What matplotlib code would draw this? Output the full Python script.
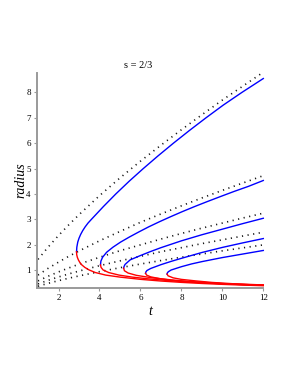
import matplotlib
matplotlib.use("Agg")
import matplotlib.pyplot as plt

# ---- data ----
t_dot = [1, 1.5, 2, 2.5, 3, 4, 5, 6, 7, 8, 9, 10, 11, 12]
r_dot1 = [1.42, 1.91, 2.36, 2.78, 3.18, 3.93, 4.63, 5.29, 5.92, 6.53, 7.12, 7.70, 8.25, 8.80]
r_dot2 = [0.80, 1.07, 1.31, 1.54, 1.75, 2.15, 2.52, 2.88, 3.21, 3.53, 3.84, 4.14, 4.43, 4.72]
r_dot3 = [0.57, 0.757, 0.925, 1.08, 1.23, 1.50, 1.76, 1.99, 2.22, 2.44, 2.65, 2.85, 3.05, 3.24]
r_dot4 = [0.45, 0.595, 0.725, 0.845, 0.958, 1.17, 1.36, 1.54, 1.72, 1.88, 2.04, 2.19, 2.34, 2.49]
r_dot5 = [0.36, 0.476, 0.580, 0.676, 0.767, 0.934, 1.09, 1.235, 1.373, 1.505, 1.632, 1.755, 1.874, 1.99]

# curve 1
c1_up_t = [2.88, 2.895, 2.94, 3.00, 3.08, 3.18, 3.30, 3.44, 3.61, 4.19, 4.80, 5.45, 6.14, 6.86, 7.61, 8.39, 9.20, 10.04, 10.95, 12.0]
c1_up_r = [1.72, 1.9, 2.1, 2.25, 2.4, 2.55, 2.7, 2.85, 3.0, 3.5, 4.0, 4.5, 5.0, 5.5, 6.0, 6.5, 7.0, 7.5, 8.0, 8.55]
c1_lo_t = [2.88, 2.89, 2.92, 2.97, 3.04, 3.14, 3.29, 3.50, 3.80, 4.30, 5.0, 6.0, 7.0, 8.0, 9.0, 10.0, 11.0, 12.0]
c1_lo_r = [1.72, 1.6, 1.5, 1.4, 1.3, 1.2, 1.1, 1.0, 0.9, 0.8, 0.72, 0.632, 0.565, 0.512, 0.469, 0.434, 0.405, 0.38]
# curve 2
c2_up_t = [4.05, 4.07, 4.15, 4.35, 4.66, 5.03, 5.46, 5.92, 6.40, 6.92, 7.47, 8.04, 8.64, 9.27, 9.92, 10.58, 11.28, 12.0]
c2_up_r = [1.2, 1.35, 1.5, 1.7, 1.9, 2.1, 2.3, 2.5, 2.7, 2.9, 3.1, 3.3, 3.5, 3.7, 3.9, 4.1, 4.3, 4.53]
c2_lo_t = [4.05, 4.08, 4.18, 4.45, 4.95, 5.6, 6.4, 7.4, 8.5, 9.7, 10.8, 12.0]
c2_lo_r = [1.2, 1.1, 1.0, 0.9, 0.8, 0.72, 0.65, 0.58, 0.52, 0.47, 0.43, 0.395]
# curve 3
c3_up_t = [5.18, 5.20, 5.25, 5.5, 6.0, 6.5, 7.0, 8.0, 9.0, 10.0, 11.0, 12.0]
c3_up_r = [1.07, 1.14, 1.22, 1.40, 1.57, 1.73, 1.88, 2.15, 2.39, 2.61, 2.83, 3.04]
c3_lo_t = [5.18, 5.22, 5.4, 5.8, 6.5, 7.5, 8.5, 9.5, 10.5, 12.0]
c3_lo_r = [1.07, 0.97, 0.88, 0.79, 0.70, 0.61, 0.54, 0.49, 0.445, 0.40]
# curve 4
c4_up_t = [6.25, 6.27, 6.32, 6.5, 7.0, 7.5, 8.0, 9.0, 10.0, 11.0, 12.0]
c4_up_r = [0.87, 0.93, 0.98, 1.06, 1.21, 1.34, 1.46, 1.69, 1.89, 2.07, 2.24]
c4_lo_t = [6.25, 6.3, 6.5, 7.0, 7.7, 8.5, 9.5, 10.5, 12.0]
c4_lo_r = [0.87, 0.80, 0.73, 0.65, 0.58, 0.53, 0.48, 0.44, 0.405]
# curve 5
c5_up_t = [7.3, 7.32, 7.36, 7.5, 8.0, 8.5, 9.0, 10.0, 11.0, 12.0]
c5_up_r = [0.84, 0.89, 0.93, 1.00, 1.13, 1.24, 1.33, 1.49, 1.63, 1.77]
c5_lo_t = [7.3, 7.35, 7.6, 8.0, 8.7, 9.5, 10.5, 12.0]
c5_lo_r = [0.84, 0.77, 0.69, 0.63, 0.57, 0.51, 0.46, 0.41]

x_ticks = [2, 4, 6, 8, 10, 12]
y_ticks = [1, 2, 3, 4, 5, 6, 7, 8]
title = "s = 2/3"

# ---- figure ----
W, H = 289, 374
fig = plt.figure(figsize=(W / 100, H / 100), dpi=100)
ax = fig.add_axes([37 / W, 86.5 / H, 226.3 / W, 214.8 / H])
ax.set_xlim(0.95, 12.0)
ax.set_ylim(0.31, 8.78)

serif = ["Liberation Serif", "DejaVu Serif"]

for rd in (r_dot1, r_dot2, r_dot3, r_dot4, r_dot5):
    ax.plot(t_dot, rd, color="#141414", lw=1.2, linestyle=(0, (0.7, 2.7)),
            dash_capstyle="butt", clip_on=False)

ups = [(c1_up_t, c1_up_r), (c2_up_t, c2_up_r), (c3_up_t, c3_up_r),
       (c4_up_t, c4_up_r), (c5_up_t, c5_up_r)]
los = [(c1_lo_t, c1_lo_r), (c2_lo_t, c2_lo_r), (c3_lo_t, c3_lo_r),
       (c4_lo_t, c4_lo_r), (c5_lo_t, c5_lo_r)]
for t, r in ups:
    ax.plot(t, r, color="#0000ff", lw=1.0, clip_on=False)
for t, r in los:
    ax.plot(t, r, color="#ff0000", lw=1.0, clip_on=False)

for s in ("top", "right"):
    ax.spines[s].set_visible(False)
for s in ("left", "bottom"):
    ax.spines[s].set_color("#9a9a9a")
    ax.spines[s].set_linewidth(1.4)

ax.set_xticks(x_ticks)
ax.set_yticks(y_ticks)
ax.set_xticklabels([str(v) for v in x_ticks], family=serif, fontsize=6.5)
ax.set_yticklabels([str(v) for v in y_ticks], family=serif, fontsize=6.5)
ax.tick_params(axis="both", direction="out", length=2.5, width=0.8,
               color="#9a9a9a", pad=2)

ax.set_xlabel("t", family=serif, style="italic", fontsize=10, labelpad=2)
ax.set_ylabel("radius", family=serif, style="italic", fontsize=10, labelpad=-1)

fig.text(138 / W, 1 - 65.7 / H, title, family=serif, fontsize=7.5,
         ha="center", va="center")

fig.savefig("out.png", dpi=100)
